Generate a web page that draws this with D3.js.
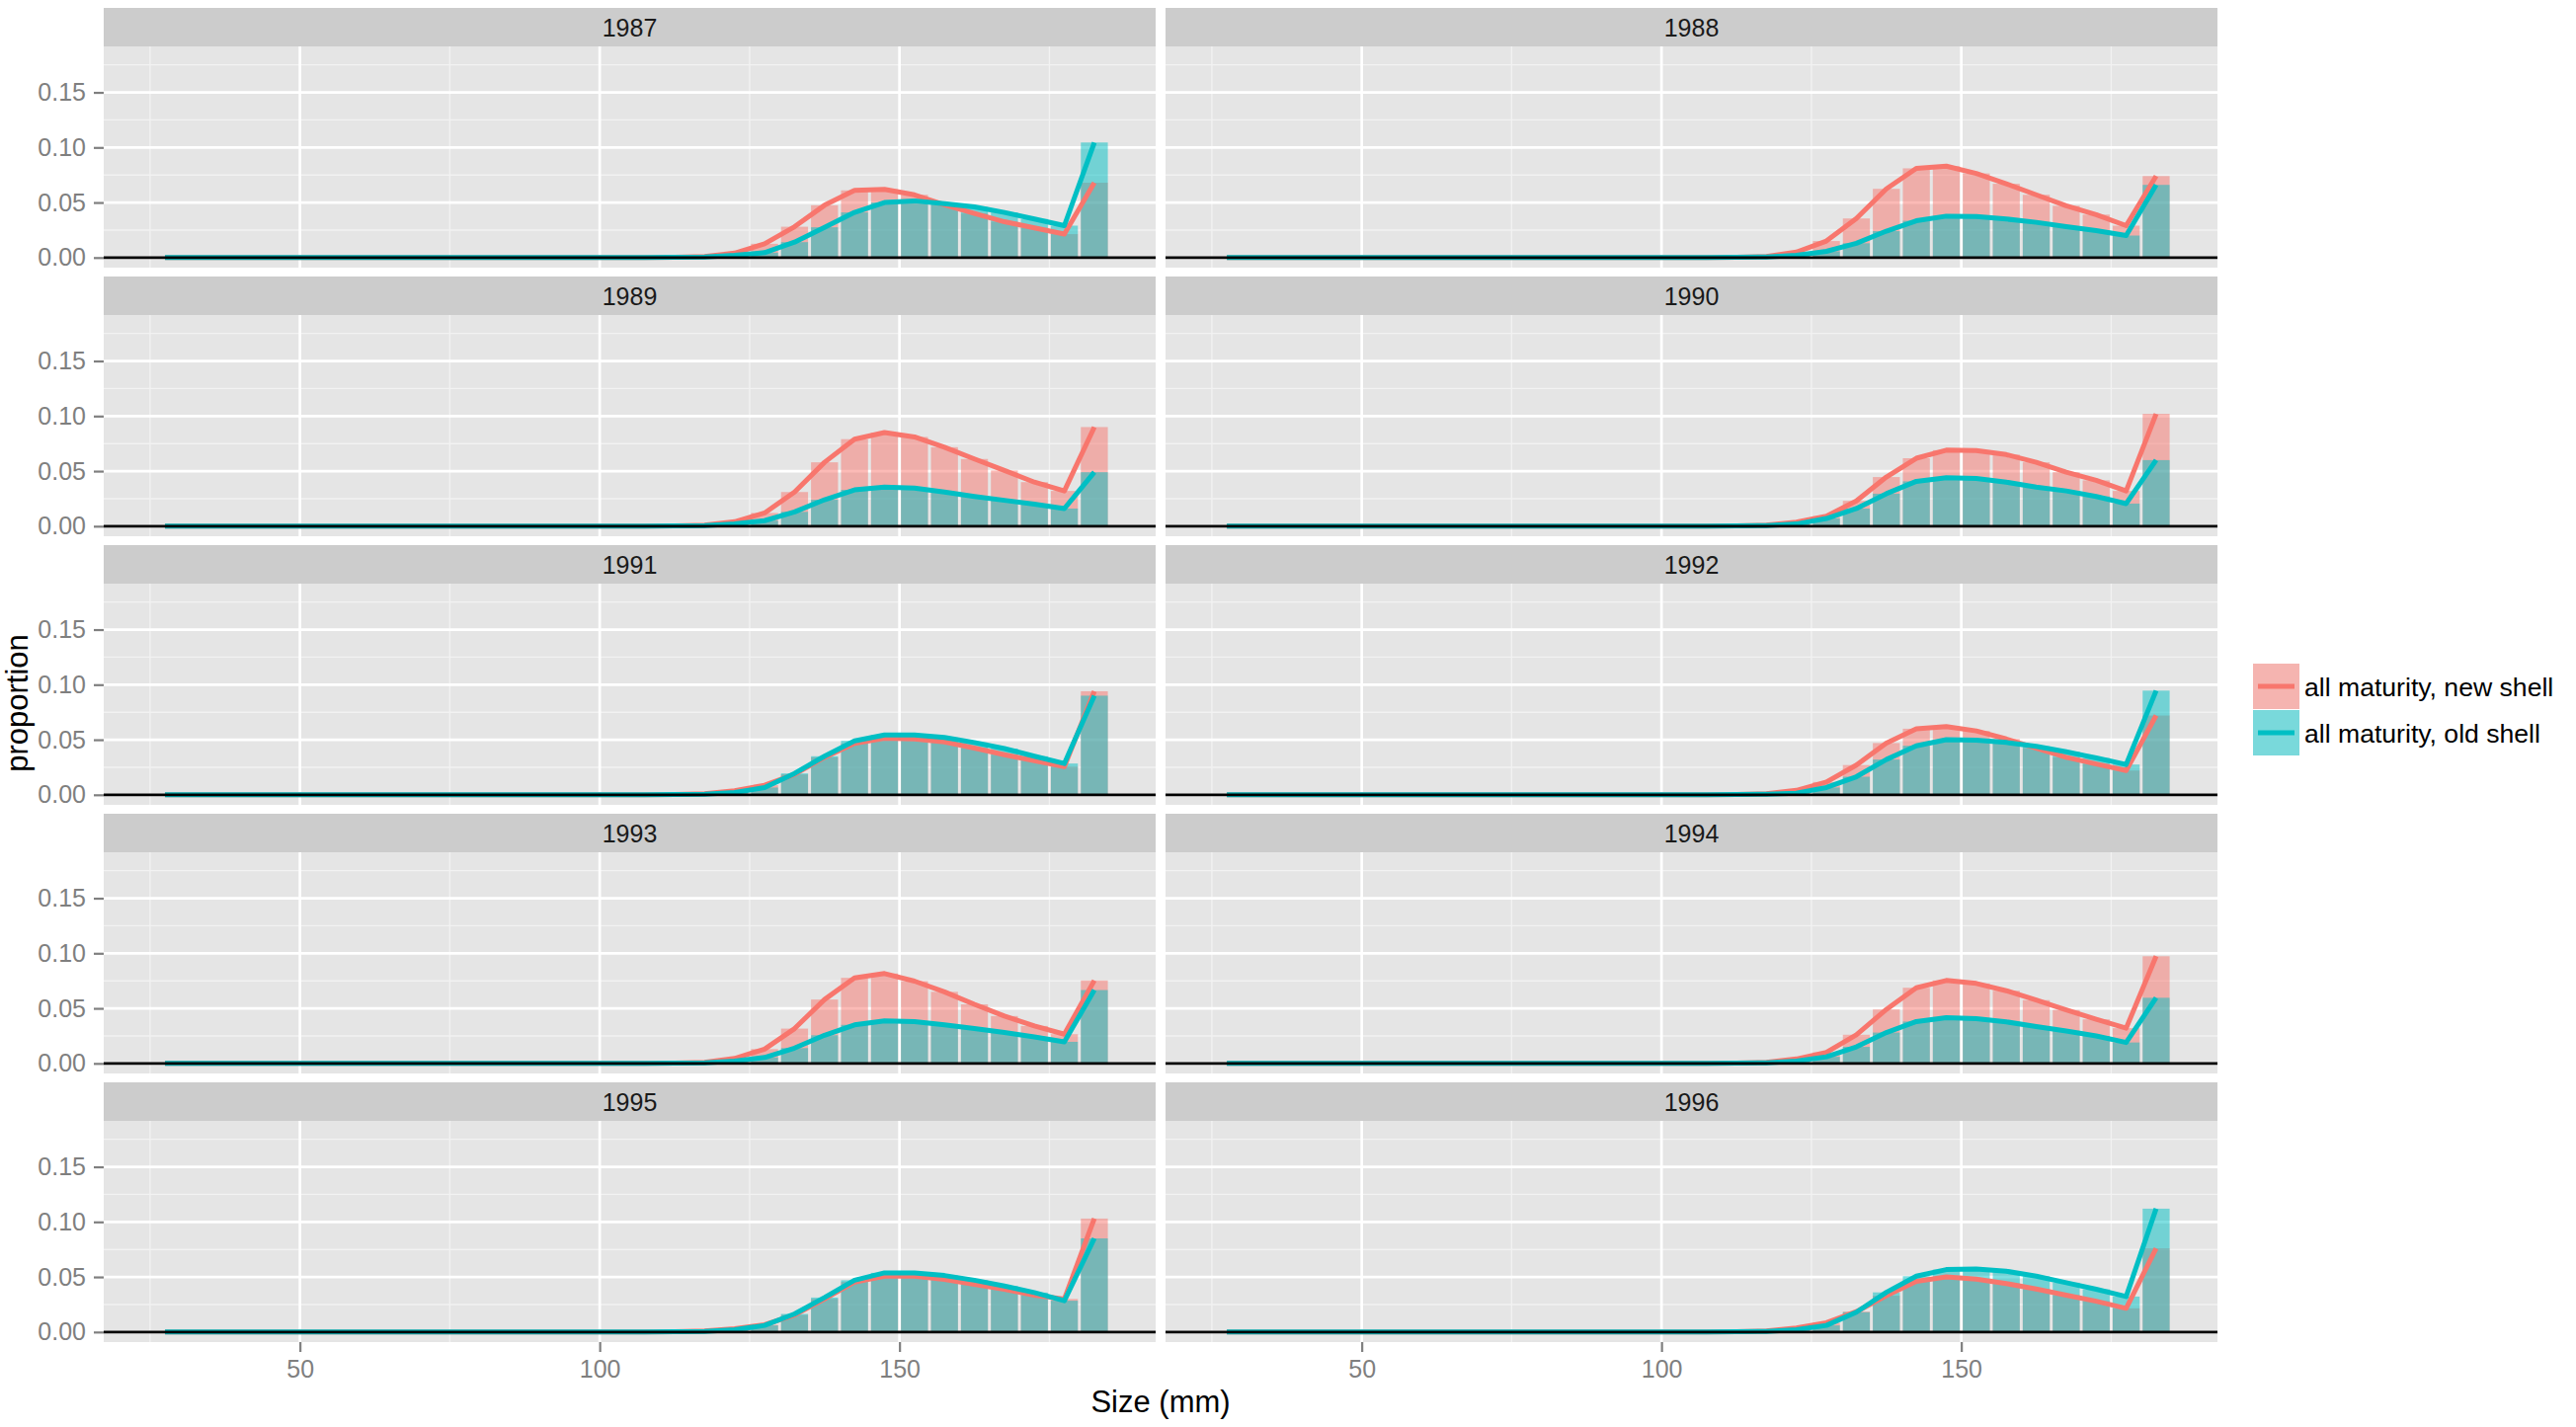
<!DOCTYPE html>
<html>
<head>
<meta charset="utf-8">
<script src="https://cdn.jsdelivr.net/npm/d3@7"></script>
<style>
  body { margin: 0; background: #fff; }
  svg { display: block; font-family: "Liberation Sans", Arial, Helvetica, sans-serif; }
</style>
</head>
<body>
<div id="chart"></div>
<script>
// size bins (mm), bar centres
const sizeBins = [27.5, 32.5, 37.5, 42.5, 47.5, 52.5, 57.5, 62.5, 67.5, 72.5, 77.5, 82.5, 87.5, 92.5, 97.5, 102.5,
  107.5, 112.5, 117.5, 122.5, 127.5, 132.5, 137.5, 142.5, 147.5, 152.5, 157.5, 162.5, 167.5, 172.5, 177.5, 182.5];

const years = ["1987", "1988", "1989", "1990", "1991", "1992", "1993", "1994", "1995", "1996"];

const seriesNames = ["all maturity, new shell", "all maturity, old shell"];
const seriesColors = ["#F8766D", "#00BFC4"];

const xTicks = [50, 100, 150];
const xMinorTicks = [25, 75, 125, 175];
const yTicks = [0, 0.05, 0.10, 0.15];
const yMinorTicks = [0.025, 0.075, 0.125, 0.175];

// proportion per size bin, new shell
const new1987 = [0, 0, 0, 0, 0, 0, 0, 0, 0, 0, 0, 0, 0, 0, 0, 0, 0,
  0.0003, 0.001, 0.004, 0.0125, 0.028, 0.0475, 0.061, 0.062, 0.057, 0.048, 0.040, 0.0325, 0.027, 0.0213, 0.068];
const new1988 = [0, 0, 0, 0, 0, 0, 0, 0, 0, 0, 0, 0, 0, 0, 0, 0, 0,
  0.0003, 0.001, 0.005, 0.015, 0.0355, 0.0624, 0.081, 0.083, 0.0764, 0.067, 0.057, 0.047, 0.039, 0.029, 0.074];
const new1989 = [0, 0, 0, 0, 0, 0, 0, 0, 0, 0, 0, 0, 0, 0, 0, 0, 0,
  0.0003, 0.001, 0.004, 0.012, 0.031, 0.058, 0.079, 0.085, 0.081, 0.0717, 0.061, 0.0506, 0.040, 0.032, 0.090];
const new1990 = [0, 0, 0, 0, 0, 0, 0, 0, 0, 0, 0, 0, 0, 0, 0, 0, 0,
  0.0003, 0.001, 0.0036, 0.009, 0.023, 0.0446, 0.0617, 0.069, 0.0687, 0.065, 0.058, 0.049, 0.0416, 0.032, 0.102];
const new1991 = [0, 0, 0, 0, 0, 0, 0, 0, 0, 0, 0, 0, 0, 0, 0, 0, 0,
  0.0003, 0.001, 0.0036, 0.0087, 0.0185, 0.034, 0.0466, 0.0513, 0.0507, 0.048, 0.0424, 0.0364, 0.031, 0.0256, 0.094];
const new1992 = [0, 0, 0, 0, 0, 0, 0, 0, 0, 0, 0, 0, 0, 0, 0, 0, 0,
  0.0003, 0.001, 0.004, 0.0116, 0.027, 0.047, 0.060, 0.062, 0.058, 0.0507, 0.0424, 0.034, 0.028, 0.022, 0.072];
const new1993 = [0, 0, 0, 0, 0, 0, 0, 0, 0, 0, 0, 0, 0, 0, 0, 0, 0,
  0.0003, 0.001, 0.0045, 0.013, 0.0316, 0.058, 0.0777, 0.0816, 0.0747, 0.065, 0.0536, 0.043, 0.034, 0.0265, 0.0753];
const new1994 = [0, 0, 0, 0, 0, 0, 0, 0, 0, 0, 0, 0, 0, 0, 0, 0, 0,
  0.0003, 0.001, 0.004, 0.010, 0.026, 0.049, 0.0687, 0.0753, 0.0726, 0.066, 0.0575, 0.0485, 0.040, 0.032, 0.0973];
const new1995 = [0, 0, 0, 0, 0, 0, 0, 0, 0, 0, 0, 0, 0, 0, 0, 0, 0,
  0.0003, 0.001, 0.003, 0.0066, 0.0155, 0.030, 0.0454, 0.0507, 0.0507, 0.0478, 0.0433, 0.0388, 0.0334, 0.030, 0.103];
const new1996 = [0, 0, 0, 0, 0, 0, 0, 0, 0, 0, 0, 0, 0, 0, 0, 0, 0,
  0.0003, 0.001, 0.0036, 0.0084, 0.0185, 0.033, 0.046, 0.050, 0.048, 0.044, 0.039, 0.0334, 0.028, 0.0215, 0.076];

// proportion per size bin, old shell
const old1987 = [0, 0, 0, 0, 0, 0, 0, 0, 0, 0, 0, 0, 0, 0, 0, 0, 0,
  0.0002, 0.0006, 0.002, 0.0045, 0.014, 0.0275, 0.041, 0.050, 0.0515, 0.049, 0.046, 0.041, 0.035, 0.029, 0.1045];
const old1988 = [0, 0, 0, 0, 0, 0, 0, 0, 0, 0, 0, 0, 0, 0, 0, 0, 0,
  0.0002, 0.0006, 0.002, 0.0057, 0.013, 0.024, 0.0334, 0.0376, 0.0373, 0.035, 0.032, 0.028, 0.0245, 0.020, 0.066];
const old1989 = [0, 0, 0, 0, 0, 0, 0, 0, 0, 0, 0, 0, 0, 0, 0, 0, 0,
  0.0002, 0.0006, 0.002, 0.005, 0.013, 0.024, 0.033, 0.0355, 0.0346, 0.031, 0.027, 0.0235, 0.020, 0.016, 0.049];
const old1990 = [0, 0, 0, 0, 0, 0, 0, 0, 0, 0, 0, 0, 0, 0, 0, 0, 0,
  0.0002, 0.0006, 0.002, 0.007, 0.016, 0.0295, 0.0407, 0.044, 0.0434, 0.040, 0.0355, 0.032, 0.027, 0.0205, 0.060];
const old1991 = [0, 0, 0, 0, 0, 0, 0, 0, 0, 0, 0, 0, 0, 0, 0, 0, 0,
  0.0002, 0.0006, 0.002, 0.0066, 0.0194, 0.035, 0.049, 0.0543, 0.0543, 0.052, 0.0475, 0.042, 0.035, 0.0284, 0.090];
const old1992 = [0, 0, 0, 0, 0, 0, 0, 0, 0, 0, 0, 0, 0, 0, 0, 0, 0,
  0.0002, 0.0006, 0.0015, 0.0066, 0.0164, 0.032, 0.0445, 0.050, 0.0496, 0.0475, 0.044, 0.039, 0.0334, 0.0275, 0.0946];
const old1993 = [0, 0, 0, 0, 0, 0, 0, 0, 0, 0, 0, 0, 0, 0, 0, 0, 0,
  0.0002, 0.0006, 0.002, 0.0054, 0.0139, 0.0256, 0.035, 0.0386, 0.038, 0.035, 0.0316, 0.028, 0.024, 0.0196, 0.0666];
const old1994 = [0, 0, 0, 0, 0, 0, 0, 0, 0, 0, 0, 0, 0, 0, 0, 0, 0,
  0.0002, 0.0006, 0.002, 0.006, 0.015, 0.028, 0.038, 0.0416, 0.0407, 0.0377, 0.0334, 0.0295, 0.025, 0.019, 0.0596];
const old1995 = [0, 0, 0, 0, 0, 0, 0, 0, 0, 0, 0, 0, 0, 0, 0, 0, 0,
  0.0002, 0.0006, 0.002, 0.006, 0.0164, 0.0313, 0.047, 0.0537, 0.0537, 0.0513, 0.047, 0.0418, 0.0358, 0.0284, 0.085];
const old1996 = [0, 0, 0, 0, 0, 0, 0, 0, 0, 0, 0, 0, 0, 0, 0, 0, 0,
  0.0002, 0.0006, 0.002, 0.006, 0.018, 0.036, 0.0507, 0.0567, 0.0573, 0.0552, 0.0507, 0.0448, 0.0388, 0.0322, 0.112];

const newShell = [new1987, new1988, new1989, new1990, new1991, new1992, new1993, new1994, new1995, new1996];
const oldShell = [old1987, old1988, old1989, old1990, old1991, old1992, old1993, old1994, old1995, old1996];

(function() {

  let width = 2608, height = 1445;

  // facet layout
  let panelW = 1065, plotH = 224, stripH = 39,
      colX = [105, 1180],
      rowTop = 8, rowPitch = 272;

  let svg = d3.select("#chart")
    .append("svg")
      .attr("width", width)
      .attr("height", height);

  // ggplot style scales: data range expanded by 5%
  let binWidth = 4.5;
  let xLo = d3.min(sizeBins) - binWidth / 2, xHi = d3.max(sizeBins) + binWidth / 2;
  let xPad = (xHi - xLo) * 0.05;
  let x = d3.scaleLinear()
      .domain([xLo - xPad, xHi + xPad])
      .range([0, panelW]);

  let yMax = 0.1826;
  let y = d3.scaleLinear()
      .domain([-yMax * 0.05, yMax * 1.05])
      .range([plotH, 0]);

  let line = d3.line()
      .x(function(d) { return x(d.size); })
      .y(function(d) { return y(d.value); });

  years.forEach(function(year, i) {
    let col = i % 2, row = Math.floor(i / 2);
    let px = colX[col], top = rowTop + row * rowPitch;

    // strip
    svg.append("rect")
      .attr("x", px).attr("y", top)
      .attr("width", panelW).attr("height", stripH)
      .attr("fill", "#CCCCCC");
    svg.append("text")
      .attr("x", px + panelW / 2).attr("y", top + stripH / 2)
      .attr("dy", "0.36em")
      .attr("text-anchor", "middle")
      .attr("font-size", 25)
      .attr("fill", "#1A1A1A")
      .text(year);

    let g = svg.append("g")
      .attr("transform", "translate(" + px + "," + (top + stripH) + ")");

    g.append("rect")
      .attr("width", panelW).attr("height", plotH)
      .attr("fill", "#E5E5E5");

    // minor grid
    g.selectAll(".xminor").data(xMinorTicks).enter().append("line")
      .attr("x1", function(d) { return x(d); }).attr("x2", function(d) { return x(d); })
      .attr("y1", 0).attr("y2", plotH)
      .attr("stroke", "#F2F2F2").attr("stroke-width", 1.4);
    g.selectAll(".yminor").data(yMinorTicks).enter().append("line")
      .attr("x1", 0).attr("x2", panelW)
      .attr("y1", function(d) { return y(d); }).attr("y2", function(d) { return y(d); })
      .attr("stroke", "#F2F2F2").attr("stroke-width", 1.4);
    // major grid
    g.selectAll(".xmajor").data(xTicks).enter().append("line")
      .attr("x1", function(d) { return x(d); }).attr("x2", function(d) { return x(d); })
      .attr("y1", 0).attr("y2", plotH)
      .attr("stroke", "#FFFFFF").attr("stroke-width", 2.7);
    g.selectAll(".ymajor").data(yTicks).enter().append("line")
      .attr("x1", 0).attr("x2", panelW)
      .attr("y1", function(d) { return y(d); }).attr("y2", function(d) { return y(d); })
      .attr("stroke", "#FFFFFF").attr("stroke-width", 2.7);

    let series = [newShell[i], oldShell[i]].map(function(vals, s) {
      return {
        color: seriesColors[s],
        points: sizeBins.map(function(size, k) { return { size: size, value: vals[k] }; })
      };
    });

    // overlapping bars
    series.forEach(function(sr) {
      g.append("g").selectAll("rect")
        .data(sr.points)
        .enter().append("rect")
          .attr("x", function(d) { return x(d.size - binWidth / 2); })
          .attr("y", function(d) { return y(d.value); })
          .attr("width", function(d) { return x(d.size + binWidth / 2) - x(d.size - binWidth / 2); })
          .attr("height", function(d) { return y(0) - y(d.value); })
          .attr("fill", sr.color)
          .attr("fill-opacity", 0.5);
    });

    // lines
    series.forEach(function(sr) {
      g.append("path")
        .datum(sr.points)
        .attr("d", line)
        .attr("fill", "none")
        .attr("stroke", sr.color)
        .attr("stroke-width", 5)
        .attr("stroke-linejoin", "round")
        .attr("stroke-linecap", "butt");
    });

    // zero line
    g.append("line")
      .attr("x1", 0).attr("x2", panelW)
      .attr("y1", y(0)).attr("y2", y(0))
      .attr("stroke", "#000").attr("stroke-width", 2.7);

    // y axis on left column
    if (col === 0) {
      let ay = g.append("g")
        .call(d3.axisLeft(y).tickValues(yTicks).tickFormat(d3.format(".2f")).tickSize(10).tickPadding(8));
      styleAxis(ay);
    }
    // x axis on bottom row
    if (row === 4) {
      let ax = g.append("g")
        .attr("transform", "translate(0," + plotH + ")")
        .call(d3.axisBottom(x).tickValues(xTicks).tickSize(10).tickPadding(8));
      styleAxis(ax);
    }
  });

  function styleAxis (sel) {
    sel.select(".domain").remove();
    sel.selectAll(".tick line").attr("stroke", "#7F7F7F").attr("stroke-width", 2.2);
    sel.selectAll(".tick text")
      .attr("fill", "#7F7F7F")
      .attr("font-size", 25)
      .attr("font-family", "Liberation Sans, Arial, sans-serif");
  }

  // axis titles
  svg.append("text")
    .attr("x", (colX[0] + colX[1] + panelW) / 2).attr("y", 1430)
    .attr("text-anchor", "middle")
    .attr("font-size", 31)
    .text("Size (mm)");
  svg.append("text")
    .attr("transform", "translate(28,712) rotate(-90)")
    .attr("text-anchor", "middle")
    .attr("font-size", 31)
    .text("proportion");

  // legend
  let legend = svg.append("g")
    .attr("transform", "translate(2281,672)");
  let keyW = 47, keyH = 46;
  seriesNames.forEach(function(name, s) {
    let k = legend.append("g").attr("transform", "translate(0," + (s * (keyH + 1)) + ")");
    k.append("rect")
      .attr("width", keyW).attr("height", keyH)
      .attr("fill", "#F2F2F2");
    k.append("rect")
      .attr("width", keyW).attr("height", keyH)
      .attr("fill", seriesColors[s]).attr("fill-opacity", 0.5);
    k.append("line")
      .attr("x1", 5).attr("x2", keyW - 5)
      .attr("y1", keyH / 2).attr("y2", keyH / 2)
      .attr("stroke", seriesColors[s]).attr("stroke-width", 5);
    k.append("text")
      .attr("x", keyW + 5).attr("y", keyH / 2)
      .attr("dy", "0.36em")
      .attr("font-size", 26.6)
      .text(name);
  });

})();
</script>
</body>
</html>
